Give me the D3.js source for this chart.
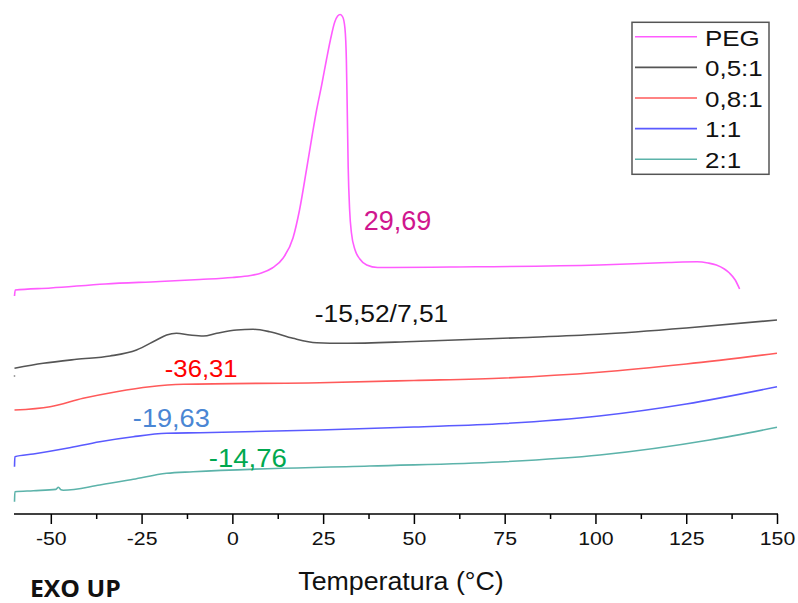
<!DOCTYPE html>
<html>
<head>
  <meta charset="utf-8">
  <title>DSC - Temperatura</title>
  <script src="https://d3js.org/d3.v7.min.js"></script>
  <style>
    body { margin: 0; background: #fff; }
    text { font-family: "Liberation Sans", Arial, sans-serif; }
  </style>
</head>
<body>
  <svg id="grafico" width="798" height="603"></svg>

  <script>
    const width = 798;
    const height = 603;

    // series (temperatura em °C, fluxo de calor em unidades arbitrárias, exo para cima)
    const seriesNames = ["PEG", "0,5:1", "0,8:1", "1:1", "2:1"];
    const seriesColors = ["#ff5cff", "#555555", "#ff5a5a", "#5a5aff", "#5cb3aa"];

    const tempPEG = [-60, -59.8, -50, -35, -20, -9, 0, 5, 8, 11, 14, 16.7, 18.5, 20.4, 22, 23.2, 24.6, 25.9, 27, 28.2, 29, 29.7, 30.4, 31, 31.4, 31.6, 31.9, 32.3, 32.8, 33.8, 35.1, 37, 40, 60, 101, 120, 128, 131, 133.3, 135.5, 136.9, 138.5, 139.7];
    const fluxPEG = [218, 224, 226, 230, 232.5, 234.5, 236.5, 238.5, 241, 246, 256, 276, 304, 344, 379, 404, 429, 454, 474, 492, 498, 499.5, 497, 486, 454, 414, 347, 304, 281, 264, 255, 249, 246.5, 247, 249, 251.5, 252.2, 251, 249, 245, 241, 234, 225];

    const temp05 = [-60, -52.1, -42.9, -33.7, -26.4, -20.9, -18.1, -15.4, -11.7, -8.0, -4.3, 1.2, 5.7, 10.3, 16.7, 23.2, 30.5, 50, 79, 101, 125, 150];
    const flux05 = [145.7, 150.7, 154.7, 158, 164, 174, 179, 180.7, 179, 178, 180.7, 184, 184.7, 182.3, 175.7, 171.3, 170.7, 172.5, 176.3, 179.7, 186, 194];

    const temp08 = [-60, -50.2, -41.1, -31.9, -22.7, -13.5, 24.1, 50, 75, 101, 125, 150];
    const flux08 = [104, 107.3, 115.7, 122.3, 127.3, 129.7, 131.3, 133.5, 136, 141.7, 150, 160.7];

    const temp11 = [-60, -59.9, -54.8, -45.6, -36.5, -27.3, -18.1, -8.9, 24.1, 50, 75, 101, 125, 150];
    const flux11 = [47.3, 57.3, 60, 65.7, 72.3, 77.3, 80.7, 81.3, 84, 87, 90.5, 98, 110, 127.3];

    const temp21 = [-60, -59.9, -54.8, -48.6, -47.9, -47.2, -46.6, -36.5, -27.3, -18.1, -10.8, 37.8, 73.6, 101.2, 131.4, 150];
    const flux21 = [12.3, 22.3, 23.3, 24.6, 26.8, 24.2, 23.8, 29, 34.7, 40.7, 42.3, 48, 52, 59, 74, 86.7];

    const majorTicks = [-50, -25, 0, 25, 50, 75, 100, 125, 150];
    const minorTicks = [-37.5, -12.5, 12.5, 37.5, 62.5, 87.5, 112.5, 137.5];

    // rótulos de transição (temperatura do rótulo e altura no eixo do fluxo)
    const labelTexts = ["29,69", "-15,52/7,51", "-36,31", "-19,63", "-14,76"];
    const labelTemps = [36.2, 22.7, -18.6, -27.4, -6.5];
    const labelFlux = [284, 192, 137.3, 87.3, 46.7];

    const temps = [tempPEG, temp05, temp08, temp11, temp21];
    const fluxes = [fluxPEG, flux05, flux08, flux11, flux21];

    const svg = d3.select("#grafico")
      .attr("width", width)
      .attr("height", height);

    const x = d3.scaleLinear().domain([-60, 150]).range([14.5, 777]);
    const y = d3.scaleLinear().domain([0, 500]).range([514, 14]);

    // estica o texto na horizontal, como na figura original
    function esticar(sel, sx) {
      sel.each(function () {
        const t = d3.select(this);
        const tx = +t.attr("x") || 0;
        const ty = +t.attr("y") || 0;
        t.attr("transform", `translate(${tx},${ty}) scale(${sx},1)`)
          .attr("x", 0)
          .attr("y", 0);
      });
    }

    const line = d3.line()
      .x(d => x(d[0]))
      .y(d => y(d[1]))
      .curve(d3.curveMonotoneX);

    seriesNames.forEach((nome, i) => {
      const pts = temps[i].map((t, j) => [t, fluxes[i][j]]);
      svg.append("path")
        .datum(pts)
        .attr("fill", "none")
        .attr("stroke", seriesColors[i])
        .attr("stroke-width", 1.6)
        .attr("d", line);
    });

    // ponto solto no início da curva 0,5:1
    svg.append("circle")
      .attr("cx", x(-60))
      .attr("cy", y(138))
      .attr("r", 0.9)
      .attr("fill", "#999");

    // eixo x
    const eixo = svg.append("g")
      .attr("transform", `translate(0,${y(0)})`)
      .call(d3.axisBottom(x)
        .tickValues(majorTicks)
        .tickFormat(d => String(d))
        .tickSize(10)
        .tickSizeOuter(0)
        .tickPadding(8));

    eixo.select(".domain")
      .attr("d", `M${x(-60) - 0.5},0H${x(150) + 1}`)
      .attr("stroke-width", 1.5);
    eixo.selectAll(".tick line").attr("stroke-width", 1.5);
    eixo.selectAll(".tick text")
      .style("font-size", "18.5px")
      .attr("fill", "#111")
      .call(esticar, 1.15);

    svg.append("g")
      .attr("transform", `translate(0,${y(0)})`)
      .call(d3.axisBottom(x)
        .tickValues(minorTicks)
        .tickSize(5)
        .tickFormat(""))
      .call(g => g.select(".domain").remove())
      .selectAll(".tick line").attr("stroke-width", 1.5);

    svg.append("text")
      .attr("x", 401)
      .attr("y", 590)
      .attr("text-anchor", "middle")
      .style("font-size", "25.5px")
      .attr("fill", "#111")
      .text("Temperatura (°C)")
      .call(esticar, 1.05);

    svg.append("text")
      .attr("x", 30)
      .attr("y", 597)
      .style("font-family", "'Open Sans', sans-serif")
      .style("font-weight", "bold")
      .style("font-size", "22.5px")
      .attr("fill", "#111")
      .text("EXO UP")
      .call(esticar, 1.1);

    // rótulos
    const labelColors = ["#d0168e", "#111111", "#ff0000", "#4a86d4", "#00a84f"];
    const labelSizes = [27, 24, 24, 25.6, 26.5];
    const labelStretch = [1.0, 1.1, 1.07, 1.06, 1.04];
    labelTexts.forEach((txt, i) => {
      svg.append("text")
        .attr("x", x(labelTemps[i]))
        .attr("y", y(labelFlux[i]))
        .style("font-size", labelSizes[i] + "px")
        .attr("fill", labelColors[i])
        .text(txt)
        .call(esticar, labelStretch[i]);
    });

    // legenda
    const legenda = svg.append("g");
    legenda.append("rect")
      .attr("x", 632)
      .attr("y", 22.3)
      .attr("width", 137)
      .attr("height", 152)
      .attr("fill", "#fff")
      .attr("stroke", "#555")
      .attr("stroke-width", 1.5);

    const item = legenda.selectAll(".item")
      .data(seriesNames)
      .enter().append("g")
      .attr("class", "item")
      .attr("transform", (_, i) => `translate(0,${36.7 + i * 30.65})`);

    item.append("line")
      .attr("x1", 635)
      .attr("x2", 697)
      .attr("stroke", (_, i) => seriesColors[i])
      .attr("stroke-width", 1.6);

    item.append("text")
      .attr("x", 705)
      .attr("dy", "0.4em")
      .style("font-size", "22px")
      .attr("fill", "#111")
      .text(d => d)
      .each(function () { d3.select(this).call(esticar, 1.18); });
  </script>
</body>
</html>
